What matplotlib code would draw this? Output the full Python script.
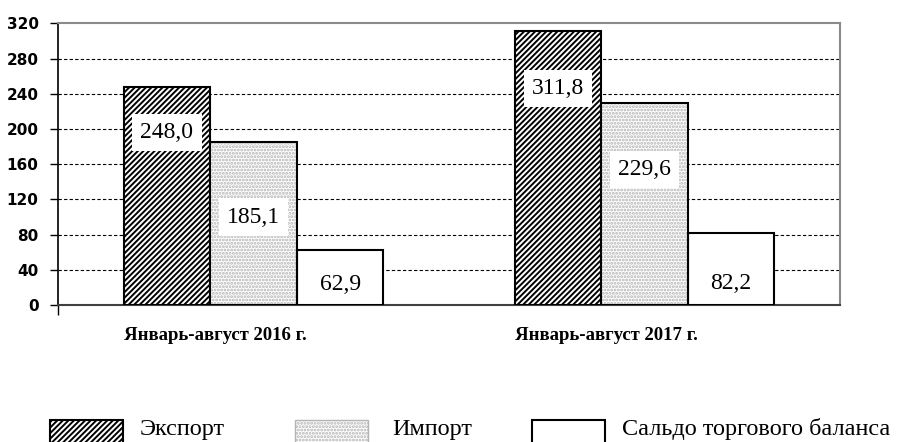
import matplotlib

matplotlib.use("Agg")
import matplotlib.pyplot as plt
import numpy as np
from matplotlib.patches import Rectangle

# data (млрд долл. США)
periods = ["Январь-август 2016 г.", "Январь-август 2017 г."]
series = ["Экспорт", "Импорт", "Сальдо торгового баланса"]
export = [248.0, 311.8]
imports = [185.1, 229.6]
saldo = [62.9, 82.2]

# where the value labels sit inside the bars (fraction of bar height)
label_frac = [[0.79, 0.79], [0.54, 0.67], [0.37, 0.30]]

plt.rcParams["hatch.linewidth"] = 1.4

fig = plt.figure(figsize=(9.05, 4.42), dpi=100)
ax = fig.add_axes([0.0641, 0.31, 0.8641, 0.6369])

x = np.arange(len(periods))
w = 0.2215
values = [export, imports, saldo]

EXP_HATCH = "//////"
IMP_HATCH = "....."
IMP_DOTS = "#b4b4b4"

# export: diagonal hatch
ax.bar(x - w, export, w, facecolor="white", edgecolor="black", hatch=EXP_HATCH,
       linewidth=1.5, zorder=3)
# import: light grey stipple, then black outline on top
ax.bar(x, imports, w, facecolor="white", edgecolor=IMP_DOTS, hatch=IMP_HATCH,
       linewidth=0, zorder=3)
ax.bar(x, imports, w, facecolor="none", edgecolor="black", linewidth=1.5, zorder=4)
# saldo: plain white
ax.bar(x + w, saldo, w, facecolor="white", edgecolor="black", linewidth=1.5, zorder=3)

for s, vals in enumerate(values):
    for i, v in enumerate(vals):
        ax.text(x[i] + (s - 1) * w, v * label_frac[s][i], f"{v:.1f}".replace(".", ","),
                ha="center", va="center", fontsize=17, family="Liberation Serif",
                zorder=5,
                bbox=dict(boxstyle="square,pad=0.35", facecolor="white", edgecolor="none"))

ax.set_xlim(-0.5, 1.5)
ax.set_ylim(0, 320)
ax.set_yticks(np.arange(0, 321, 40))
for t in ax.get_yticklabels():
    t.set_fontweight("bold")
    t.set_fontsize(11)
    t.set_family("DejaVu Sans")
ax.tick_params(axis="y", length=6, width=1, pad=8, color="black")
ax.set_xticks([-0.5])
ax.set_xticklabels([""])
ax.tick_params(axis="x", length=7, width=1, direction="out")

for yv in np.arange(40, 320, 40):
    ax.axhline(yv, color="black", lw=0.8, ls=(0, (3, 2)), zorder=1)

ax.spines["left"].set_color("black")
ax.spines["left"].set_linewidth(1.2)
ax.spines["bottom"].set_color("#404040")
ax.spines["bottom"].set_linewidth(1.5)
for side in ("top", "right"):
    ax.spines[side].set_color("#8a8a8a")
    ax.spines[side].set_linewidth(1.5)

for i, p in enumerate(periods):
    ax.text(x[i] - 0.098, -0.11, p, transform=ax.get_xaxis_transform(),
            ha="center", va="center", fontsize=13.5, fontweight="bold",
            family="Liberation Serif")

# legend drawn by hand along the bottom edge (cut off like in the source)
W, H = 905, 442
legend_box_x = [50, 295, 532]
legend_text_x = [140, 392, 622]
legend_styles = [
    dict(facecolor="white", edgecolor="black", hatch=EXP_HATCH, linewidth=1.5),
    dict(facecolor="white", edgecolor=IMP_DOTS, hatch=IMP_HATCH, linewidth=1.0),
    dict(facecolor="white", edgecolor="black", linewidth=1.5),
]
for bx, tx, name, st in zip(legend_box_x, legend_text_x, series, legend_styles):
    fig.patches.append(Rectangle((bx / W, 1 - 446 / H), 73 / W, 26 / H,
                                 transform=fig.transFigure, **st))
    fig.text(tx / W, 1 - 435 / H, name, ha="left", va="baseline",
             fontsize=17.5, family="Liberation Serif")

fig.savefig("out.png", dpi=100)
